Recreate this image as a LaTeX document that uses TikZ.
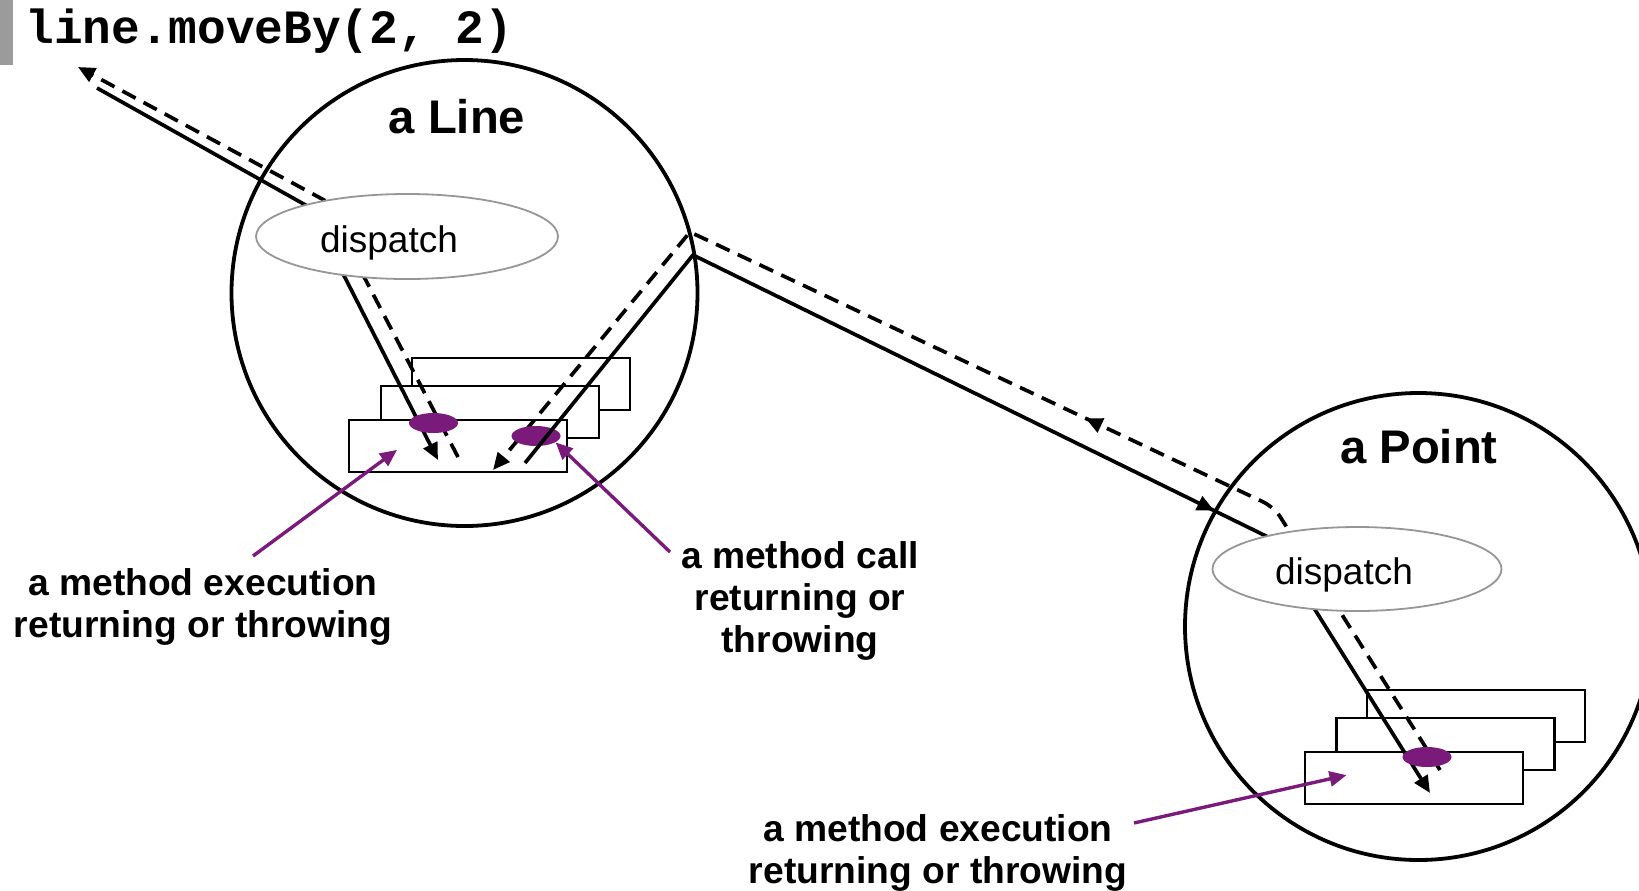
\documentclass[tikz,border=0pt]{standalone}
\usepackage{fontspec}
\setmainfont{Liberation Sans}
\newfontfamily\codefont{Liberation Mono}
\usetikzlibrary{arrows.meta,shapes.geometric,decorations.markings}

\definecolor{jpurple}{RGB}{122,26,122}
\definecolor{dispgray}{RGB}{150,150,150}
\definecolor{bargray}{RGB}{155,155,155}

\tikzset{
  obj/.style={circle, draw, line width=1.9pt, minimum size=233pt, inner sep=0pt},
  title/.style={anchor=base, inner sep=0pt, font=\bfseries\fontsize{23.6pt}{28pt}\selectfont},
  frame/.style={rectangle, draw, fill=white, line width=1.3pt, minimum width=109pt, minimum height=26pt, inner sep=0pt},
  disp/.style={ellipse, draw=dispgray, fill=white, line width=0.9pt, inner sep=0pt},
  disptext/.style={anchor=base, inner sep=0pt, font=\fontsize{18.5pt}{22pt}\selectfont},
  jp/.style={ellipse, fill=jpurple, minimum width=24.5pt, minimum height=10pt, inner sep=0pt},
  callline/.style={line width=1.85pt},
  retline/.style={line width=1.85pt, dash pattern=on 7.5pt off 4.5pt},
  midarrow/.style={postaction={decorate, decoration={markings, mark=at position #1 with {\arrow{>}}}}},
  pointer/.style={jpurple, line width=1.7pt, ->},
  note/.style={anchor=base, align=center, inner sep=0pt, font=\bfseries\fontsize{18.6pt}{21pt}\selectfont}
}

\begin{document}
\begin{tikzpicture}[x=0.5pt, y=-0.5pt, >={Triangle[length=8.5pt,width=7.5pt]}]
\useasboundingbox (0,0) rectangle (1639,890);

% --- Appel ---
\fill[bargray] (0,0) rectangle (13,65);
\node[anchor=base west, inner sep=0pt, font=\codefont\bfseries\fontsize{23.9pt}{28pt}\selectfont] (call) at (25,43) {line.moveBy(2, 2)};

% --- Objets ---
\node[obj] (lineobj) at (464.5,293) {};
\node[obj, minimum size=233.5pt] (pointobj) at (1418.5,626.5) {};
\node[title] (linetitle) at (457,133) {a Line};
\node[title] (pointtitle) at (1419,463) {a Point};

% --- Piles d'executions ---
\node[frame] (lf3) at (521,384) {};
\node[frame] (lf2) at (490,412) {};
\node[frame] (lf1) at (458,446) {};
\node[frame] (pf3) at (1476,716) {};
\node[frame] (pf2) at (1445.5,744) {};
\node[frame] (pf1) at (1414,778) {};

% --- Points de passage ---
\coordinate (callin) at (97,88);
\coordinate (lbendin) at (309,207);
\coordinate (lexec) at (438,460);
\coordinate (lretstart) at (458,457);
\coordinate (lbendret) at (324,200);
\coordinate (callret) at (78,67);
\coordinate (lcallstart) at (525,463);
\coordinate (lout) at (693,255);
\coordinate (lin) at (690,232);
\coordinate (lcallret) at (493,470);
\coordinate (pbendin) at (1270,538);
\coordinate (pexec) at (1430,793);
\coordinate (pretstart) at (1440,770);
\coordinate (pbendret) at (1274,507);

% --- Appels et retours ---
\draw[callline, ->] (callin) -- (lbendin) -- (lexec);
\draw[retline, ->] (lretstart) -- (lbendret) -- (callret);
\draw[retline, ->, midarrow=0.41] (pretstart) [rounded corners=6pt] -- (pbendret) [sharp corners] -- (lin) -- (lcallret);

\node[jp] (ldot1) at (433.5,423) {};
\node[jp] (ldot2) at (536,436) {};

\draw[callline, ->, midarrow=0.70] (lcallstart) -- (lout) -- (pbendin) -- (pexec);

\node[jp] (pdot) at (1427,757) {};

% --- Dispatch ---
\node[disp, minimum width=151pt, minimum height=42.5pt] (ldisp) at (407,236.5) {};
\node[disptext] (ldisptext) at (389,252) {dispatch};
\node[disp, minimum width=144.5pt, minimum height=42pt] (pdisp) at (1357,569) {};
\node[disptext] (pdisptext) at (1344,584) {dispatch};

% --- Legendes ---
\node[note] (lexeclab) at (203,637) {a method execution\\returning or throwing};
\node[note] (lcalllab) at (800,652) {a method call\\returning or\\throwing};
\node[note] (pexeclab) at (938,883) {a method execution\\returning or throwing};

\coordinate (lexecfrom) at (253,556);
\coordinate (lcallfrom) at (670,552);
\coordinate (pexecfrom) at (1134,823);

\draw[pointer, shorten >=15pt] (lexecfrom) -- (ldot1);
\draw[pointer] (lcallfrom) -- (ldot2.-18);
\draw[pointer, shorten >=30pt] (pexecfrom) -- (pdot);

\end{tikzpicture}
\end{document}
